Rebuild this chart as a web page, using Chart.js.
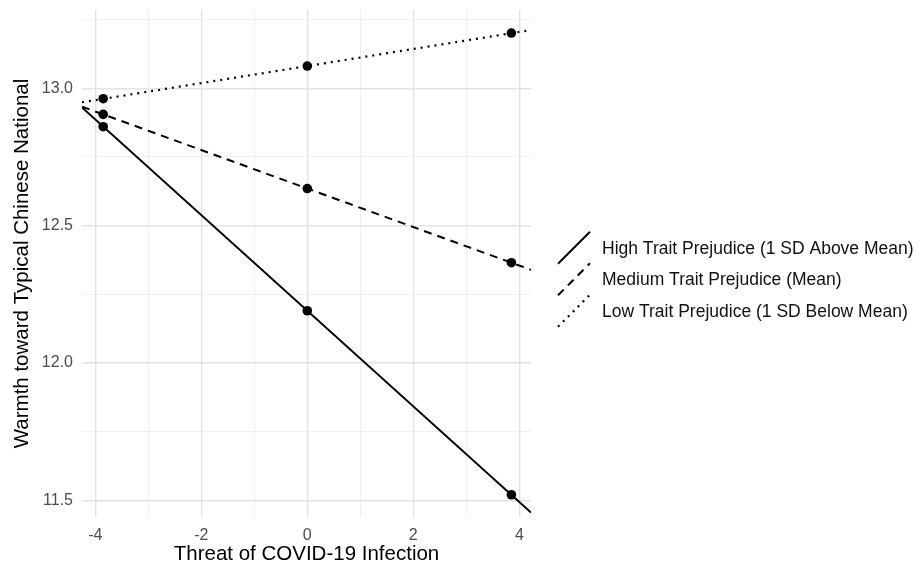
<!DOCTYPE html>
<html>
<head>
<meta charset="utf-8">
<title>Warmth toward Typical Chinese National</title>
<script src="https://cdn.jsdelivr.net/npm/chart.js@4"></script>
<style>
    html, body { margin: 0; padding: 0; background: #ffffff; }
    #wrap { width: 920px; height: 568px; }
</style>
</head>
<body>
<div id="wrap"><canvas id="simpleSlopes"></canvas></div>
<script>
/* ================================
   SIMPLE SLOPES DATA
   ================================ */

// threat values where the predicted points sit (mean +/- 1 SD)
const threatPoints = [-3.85, 0, 3.85];

const highPoints   = [12.86, 12.19, 11.52];
const mediumPoints = [12.905, 12.635, 12.365];
const lowPoints    = [12.962, 13.081, 13.201];

// regression lines run edge to edge of the panel
const lineEnds   = [-4.25, 4.22];
const highLine   = [12.93, 11.455];
const mediumLine = [12.933, 12.339];
const lowLine    = [12.949, 13.212];

const seriesNames = [
    'High Trait Prejudice (1 SD Above Mean)',
    'Medium Trait Prejudice (Mean)',
    'Low Trait Prejudice (1 SD Below Mean)'
];

const xTicks = [-4, -3, -2, -1, 0, 1, 2, 3, 4];
const xLabels = [-4, -2, 0, 2, 4];
const yTicks = [11.5, 11.75, 12.0, 12.25, 12.5, 12.75, 13.0, 13.25];
const yLabels = [11.5, 12.0, 12.5, 13.0];

const FONT = '"Liberation Sans", Arial, Helvetica, sans-serif';
const dashes = [[], [8, 6], [2, 5]];
const widths = [2, 2, 2.2];

document.addEventListener('DOMContentLoaded', () => {
    initChart();
});

/* ---- HELPERS ---- */
function toXY(xs, ys) {
    return xs.map((x, i) => ({ x: x, y: ys[i] }));
}

function lineSet(i, ys) {
    return {
        label: seriesNames[i],
        data: toXY(lineEnds, ys),
        showLine: true,
        borderColor: '#000000',
        borderWidth: widths[i],
        borderDash: dashes[i],
        pointRadius: 0,
        pointHoverRadius: 0,
        order: 2
    };
}

function pointSet(ys) {
    return {
        label: '',
        data: toXY(threatPoints, ys),
        showLine: false,
        pointRadius: 4.8,
        pointBackgroundColor: '#000000',
        pointBorderColor: '#000000',
        pointBorderWidth: 0,
        order: 1
    };
}

/* ---- LEGEND (diagonal keys like ggplot abline) ---- */
const slopeLegend = {
    id: 'slopeLegend',
    afterDraw(chart) {
        const g = chart.ctx;
        const area = chart.chartArea;
        const keyLeft = area.right + 27;
        const keySize = 32;
        const textLeft = area.right + 71;
        const rowH = 31.5;
        const top = 232;

        g.save();
        g.font = '17.5px ' + FONT;
        g.fillStyle = '#111111';
        g.textBaseline = 'middle';
        g.textAlign = 'left';
        seriesNames.forEach((name, i) => {
            const mid = top + i * rowH + rowH / 2;
            g.strokeStyle = '#000000';
            g.lineWidth = widths[i];
            g.setLineDash(dashes[i]);
            g.beginPath();
            g.moveTo(keyLeft, mid + keySize / 2);
            g.lineTo(keyLeft + keySize, mid - keySize / 2);
            g.stroke();
            g.setLineDash([]);
            g.fillText(name, textLeft, mid + 1);
        });
        g.restore();
    }
};

function noPadding(scale) {
    scale.paddingTop = 0;
    scale.paddingBottom = 0;
    scale.paddingLeft = 0;
    scale.paddingRight = 0;
}

/* ---- CHART ---- */
function initChart() {
    const ctx = document.getElementById('simpleSlopes');

    new Chart(ctx, {
        type: 'scatter',
        data: {
            datasets: [
                lineSet(0, highLine),
                lineSet(1, mediumLine),
                lineSet(2, lowLine),
                pointSet(highPoints),
                pointSet(mediumPoints),
                pointSet(lowPoints)
            ]
        },
        options: {
            responsive: true,
            maintainAspectRatio: false,
            animation: false,
            layout: { padding: { top: 10, right: 389, bottom: 0, left: 0 } },
            plugins: {
                tooltip: { enabled: false },
                legend: { display: false }
            },
            scales: {
                x: {
                    type: 'linear',
                    min: -4.25,
                    max: 4.22,
                    afterFit: scale => { scale.height = 51; noPadding(scale); },
                    afterBuildTicks: scale => {
                        scale.ticks = xTicks.map(v => ({ value: v }));
                    },
                    border: { display: false },
                    grid: {
                        drawTicks: false,
                        color: c => xLabels.includes(c.tick.value) ? '#e3e3e3' : '#eeeeee',
                        lineWidth: c => xLabels.includes(c.tick.value) ? 1.4 : 0.9
                    },
                    ticks: {
                        padding: 9,
                        color: '#4d4d4d',
                        font: { family: FONT, size: 16 },
                        autoSkip: false,
                        maxRotation: 0,
                        callback: v => xLabels.includes(v) ? String(v) : ''
                    },
                    title: {
                        display: true,
                        text: 'Threat of COVID-19 Infection',
                        color: '#000000',
                        font: { family: FONT, size: 20.5 },
                        padding: { top: 0, bottom: 1 }
                    }
                },
                y: {
                    type: 'linear',
                    min: 11.439,
                    max: 13.285,
                    afterFit: scale => { scale.width = 82; noPadding(scale); },
                    afterBuildTicks: scale => {
                        scale.ticks = yTicks.map(v => ({ value: v }));
                    },
                    border: { display: false },
                    grid: {
                        drawTicks: false,
                        color: c => yLabels.includes(c.tick.value) ? '#e3e3e3' : '#eeeeee',
                        lineWidth: c => yLabels.includes(c.tick.value) ? 1.4 : 0.9
                    },
                    ticks: {
                        padding: 9,
                        color: '#4d4d4d',
                        font: { family: FONT, size: 16 },
                        autoSkip: false,
                        callback: v => yLabels.includes(v) ? v.toFixed(1) : ''
                    },
                    title: {
                        display: true,
                        text: 'Warmth toward Typical Chinese National',
                        color: '#000000',
                        font: { family: FONT, size: 20.5 },
                        padding: { top: 10.5, bottom: 0 }
                    }
                }
            }
        },
        plugins: [slopeLegend]
    });
}
</script>
</body>
</html>
